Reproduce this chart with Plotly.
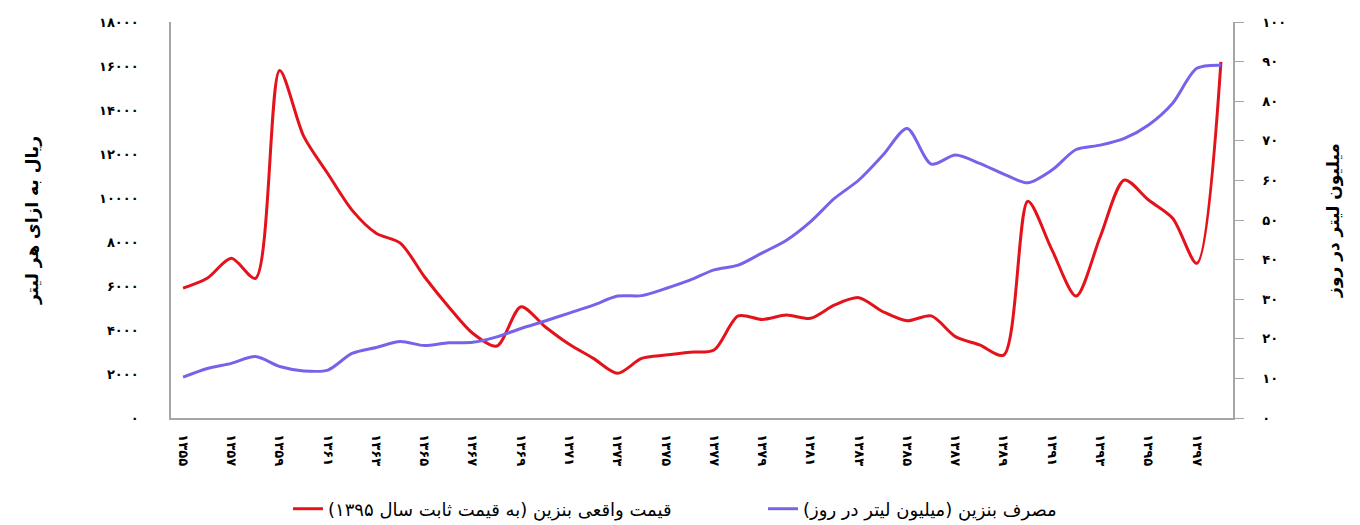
import plotly.graph_objects as go

years = list(range(1355, 1399))

# real gasoline price (rial per litre, constant 1395 prices)
price = [5900, 6350, 7260, 6350, 15800, 12800, 11100, 9450, 8400, 7950,
         6420, 5060, 3850, 3270, 5060, 4150, 3350, 2710, 2030, 2710,
         2860, 2990, 3090, 4640, 4480, 4680, 4530, 5140, 5470, 4830,
         4420, 4640, 3700, 3320, 2860, 9850, 7640, 5540, 8240, 10820,
         9910, 9080, 7030, 16190]

# gasoline consumption (million litres per day)
consumption = [10.3, 12.5, 13.8, 15.5, 13.0, 11.9, 12.1, 16.3, 17.8, 19.3,
               18.3, 19.0, 19.1, 20.5, 22.6, 24.5, 26.5, 28.5, 30.8, 30.9,
               32.7, 34.8, 37.4, 38.6, 41.7, 44.9, 49.6, 55.5, 60.1, 66.4,
               73.1, 64.1, 66.4, 64.3, 61.6, 59.4, 62.6, 67.8, 68.9, 70.6,
               74.0, 79.5, 88.3, 89.1]

left_ticks = list(range(0, 18001, 2000))
right_ticks = list(range(0, 101, 10))
x_ticks = list(range(1355, 1398, 2))

name_price = "قیمت واقعی بنزین (به قیمت ثابت سال ۱۳۹۵)"
name_cons = "مصرف بنزین (میلیون لیتر در روز)"
title_left = "ریال به ازای هر لیتر"
title_right = "میلیون لیتر در روز"

FA = str.maketrans("0123456789", "۰۱۲۳۴۵۶۷۸۹")


def fa(v):
    return str(v).translate(FA)


def rtl(s):
    return "\u202B" + s + "\u202C"


FONT = "DejaVu Sans"
TICKFONT = dict(size=13, family=FONT, weight="bold")

fig = go.Figure()
fig.add_trace(go.Scatter(
    x=years, y=price, mode="lines", name=rtl(name_price),
    line=dict(color="#E3121B", width=3, shape="spline", smoothing=0.8),
    yaxis="y", legend="legend"))
fig.add_trace(go.Scatter(
    x=years, y=consumption, mode="lines", name=rtl(name_cons),
    line=dict(color="#7563EA", width=3, shape="spline", smoothing=0.8),
    yaxis="y2", legend="legend2"))

# page body adds an 8px offset, so the figure is sized to fit the window
W, H = 1352, 517
L, R, T, B = 163, 127, 14, 107
PW = W - L - R
PH = H - T - B

fig.update_layout(
    width=W, height=H,
    margin=dict(l=L, r=R, t=T, b=B, autoexpand=False),
    paper_bgcolor="white", plot_bgcolor="white",
    font=dict(family=FONT, color="#000000", size=12),
    showlegend=True,
    xaxis=dict(
        range=[1354.5, 1398.5], tickvals=x_ticks,
        ticktext=[fa(v) for v in x_ticks], tickangle=90,
        showline=True, linecolor="#A6A6A6", linewidth=1.5,
        showgrid=False, zeroline=False, ticks="",
        tickfont=TICKFONT, ticklabelstandoff=12),
    yaxis=dict(
        range=[0, 18000], tickvals=left_ticks,
        ticktext=[fa(v) for v in left_ticks],
        showline=True, linecolor="#A6A6A6", linewidth=1.5,
        showgrid=False, zeroline=False, ticks="",
        tickfont=TICKFONT, ticklabelstandoff=28,
        title=dict(text=title_left, font=dict(size=17, family=FONT, weight="bold"),
                   standoff=56)),
    yaxis2=dict(
        range=[0, 100], tickvals=right_ticks,
        ticktext=[fa(v) for v in right_ticks],
        overlaying="y", side="right",
        showline=True, linecolor="#A6A6A6", linewidth=1.5,
        showgrid=False, zeroline=False, ticks="outside", ticklen=9,
        tickcolor="#A6A6A6",
        tickfont=TICKFONT, ticklabelstandoff=16,
        title=dict(text=title_right, font=dict(size=17, family=FONT, weight="bold"),
                   standoff=42)),
    legend=dict(x=(288 - 171) / PW, y=-(509 - 418) / PH, xanchor="left",
                yanchor="middle", orientation="h",
                font=dict(size=18, family=FONT), bgcolor="rgba(0,0,0,0)"),
    legend2=dict(x=(763 - 171) / PW, y=-(509 - 418) / PH, xanchor="left",
                 yanchor="middle", orientation="h",
                 font=dict(size=18, family=FONT), bgcolor="rgba(0,0,0,0)"),
)

fig.write_html("out.html")
